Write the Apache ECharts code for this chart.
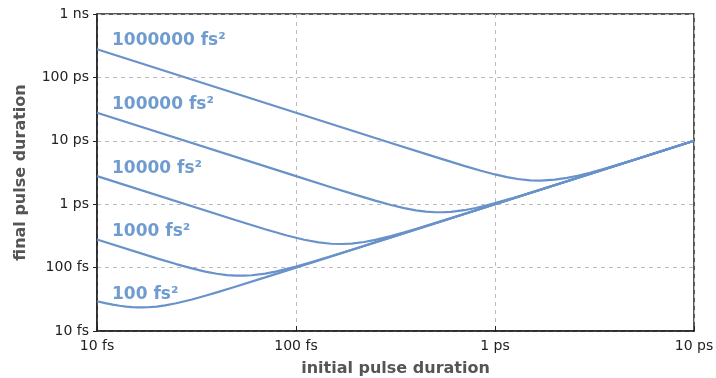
<!DOCTYPE html>
<html><head><meta charset="utf-8">
<script src="https://cdn.jsdelivr.net/npm/echarts@6/dist/echarts.min.js"></script>
<style>html,body{margin:0;padding:0;background:#fff}#c{width:716px;height:378px}</style>
</head><body><div id="c"></div>
<script>
// Tick values (fs) and their labels
const tickValues = [10, 100, 1000, 10000, 100000, 1000000];
const tickLabels = ['10 fs', '100 fs', '1 ps', '10 ps', '100 ps', '1 ns'];

// GDD curve labels
const gddLabels = ['1000000 fs²', '100000 fs²', '10000 fs²', '1000 fs²', '100 fs²'];

// initial pulse duration (fs) -> final pulse duration (fs)
const tau0_100 = [10, 11, 12, 13, 14, 15, 16, 17, 18, 20, 22, 25, 30, 35, 40, 50, 70, 100, 1000, 10000];
const out_100  = [29.5, 27.5, 26.1, 25.0, 24.3, 23.8, 23.6, 23.6, 23.7, 24.3, 25.4, 27.4, 31.4, 35.9, 40.6, 50.3, 70.1, 100, 1000, 10000];

const tau0_1000 = [10, 20, 25, 30, 35, 40, 45, 50, 55, 60, 70, 80, 100, 120, 150, 200, 300, 1000, 10000];
const out_1000  = [277, 140, 113.7, 97.2, 86.6, 80.0, 76.3, 74.7, 74.6, 75.7, 80.4, 87.2, 103.8, 122.2, 151, 200.5, 300, 1000, 10000];

const tau0_1e4 = [10, 50, 70, 90, 110, 130, 150, 170, 190, 220, 250, 300, 350, 400, 500, 700, 1000, 10000];
const out_1e4  = [2773, 557, 402, 321, 275, 250, 238, 235.6, 239.6, 253.5, 273.5, 314, 358.8, 406, 503, 701, 1000, 10000];

const tau0_1e5 = [10, 100, 150, 200, 250, 300, 350, 400, 450, 500, 550, 600, 700, 800, 900, 1000, 1200, 1500, 2000, 3000, 10000];
const out_1e5  = [27726, 2774, 1855, 1401, 1137, 972, 866, 800, 763, 747, 746, 757, 804, 872, 951, 1038, 1222, 1511, 2005, 3001, 10000];

const tau0_1e6 = [10, 100, 300, 500, 700, 850, 1000, 1150, 1300, 1500, 1700, 2000, 2300, 2600, 3000, 3500, 4000, 5000, 7000, 10000];
const out_1e6  = [277260, 27726, 9247, 5568, 4022, 3371, 2947, 2671, 2498, 2380, 2356, 2434, 2597, 2810, 3139, 3589, 4060, 5031, 7011, 10004];

const seriesX = [tau0_1e6, tau0_1e5, tau0_1e4, tau0_1000, tau0_100];
const seriesY = [out_1e6, out_1e5, out_1e4, out_1000, out_100];

const LINE = '#6892c9';
const TXT = '#6f9bcf';
const fmt = v => { const i = tickValues.indexOf(Math.round(v)); return i >= 0 ? tickLabels[i] : ''; };

const chart = echarts.init(document.getElementById('c'));
const labelY = [41, 105, 169, 232, 295];
chart.setOption({
  animation: false,
  grid: { left: 97, right: 22, top: 14, bottom: 47, outerBoundsMode: 'none', containLabel: false,
          show: true, borderColor: '#222', borderWidth: 1.5, backgroundColor: 'transparent' },
  xAxis: {
    type: 'log', logBase: 10, min: 10, max: 10000,
    name: 'initial pulse duration', nameLocation: 'middle', nameGap: 30,
    nameTextStyle: { fontFamily: 'DejaVu Sans', fontWeight: 'bold', fontSize: 16, color: '#555' },
    axisLine: { lineStyle: { color: '#222', width: 1.5 } },
    axisTick: { show: true, inside: true, length: 5, lineStyle: { color: '#222' } },
    axisLabel: { formatter: fmt, fontFamily: 'DejaVu Sans', fontSize: 14, color: '#222', margin: 8 },
    splitLine: { show: true, lineStyle: { color: '#bbb', type: [4, 4], width: 1 } }
  },
  yAxis: {
    type: 'log', logBase: 10, min: 10, max: 1000000,
    name: 'final pulse duration', nameLocation: 'middle', nameGap: 68,
    nameTextStyle: { fontFamily: 'DejaVu Sans', fontWeight: 'bold', fontSize: 16, color: '#555' },
    axisLine: { lineStyle: { color: '#222', width: 1.5 } },
    axisTick: { show: true, inside: false, length: 4, lineStyle: { color: '#222' } },
    axisLabel: { formatter: fmt, fontFamily: 'DejaVu Sans', fontSize: 14, color: '#222', margin: 8 },
    splitLine: { show: true, lineStyle: { color: '#bbb', type: [4, 4], width: 1 } }
  },
  series: seriesX.map((xs, i) => ({
    type: 'line', name: gddLabels[i],
    data: xs.map((x, j) => [x, seriesY[i][j]]),
    smooth: false, showSymbol: false,
    lineStyle: { color: LINE, width: 2.2 }
  })),
  graphic: gddLabels.map((t, i) => ({
    type: 'text', x: 112, y: labelY[i],
    style: { text: t, fill: TXT, font: 'bold 17px "DejaVu Sans"', verticalAlign: 'middle' }
  }))
});
</script></body></html>
